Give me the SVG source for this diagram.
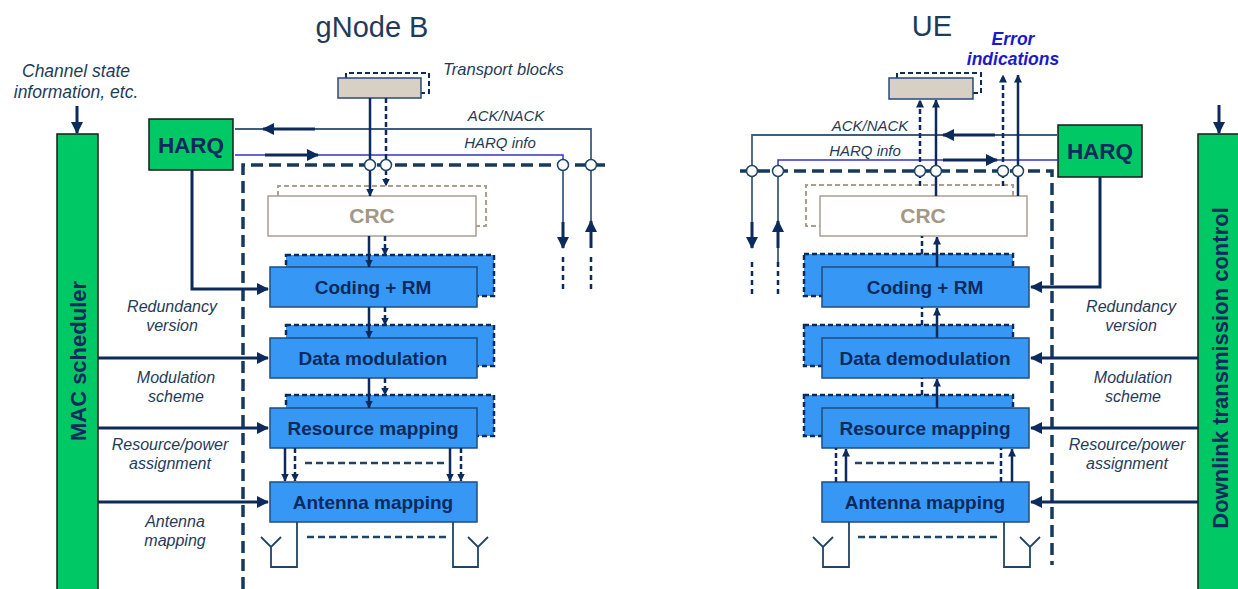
<svg xmlns="http://www.w3.org/2000/svg" width="1238" height="589" viewBox="0 0 1238 589">
<style>
.t{font-family:"Liberation Sans",Arial,sans-serif;}
.title{font-size:29px;fill:#1f3b5a;text-anchor:middle;}
.lbl{font-size:16px;font-style:italic;fill:#1f3b5a;text-anchor:middle;}
.sl{font-size:15px;font-style:italic;fill:#1f3b5a;text-anchor:middle;}
.box{fill:#3797f5;stroke:#1f4c80;stroke-width:1.5;}
.back{fill:#3797f5;stroke:#0c2a5b;stroke-width:2.5;stroke-dasharray:5 3;}
.bt{font-size:19px;font-weight:bold;fill:#0c2a5b;text-anchor:middle;}
.green{fill:#00c864;stroke:#1a1a1a;stroke-width:1.5;}
.harq{font-size:22.5px;font-weight:bold;fill:#0c2a5b;text-anchor:middle;}
.vt{font-size:22px;font-weight:bold;fill:#0c2a5b;text-anchor:middle;}
.crc{fill:#ffffff;stroke:#ab9f90;stroke-width:1.5;}
.crcb{fill:none;stroke:#ab9f90;stroke-width:2;stroke-dasharray:5 3;}
.crct{font-size:21px;font-weight:bold;fill:#a39786;text-anchor:middle;}
.tb{fill:#d8d0c4;stroke:#2a4a7a;stroke-width:1.5;}
.tbb{fill:none;stroke:#0c2a5b;stroke-width:2;stroke-dasharray:5 3;}
.bound{fill:none;stroke:#173a5c;stroke-width:3.5;stroke-dasharray:12 6;}
.thin{fill:none;stroke:#3d5f7f;stroke-width:1.8;}
.hinfo{fill:none;stroke:#3333cc;stroke-width:1.5;}
.nav{fill:none;stroke:#0c2a5b;stroke-width:3;}
.flow{fill:none;stroke:#0c2a5b;stroke-width:2.5;}
.flowd{fill:none;stroke:#0c2a5b;stroke-width:2.5;stroke-dasharray:5 3;}
.dd{fill:none;stroke:#0c2a5b;stroke-width:2.5;stroke-dasharray:5 4;}
.ant{fill:none;stroke:#1f4466;stroke-width:1.8;}
.antd{fill:none;stroke:#1f4466;stroke-width:2.5;stroke-dasharray:7 4;}
.circ{fill:#ffffff;stroke:#1f4466;stroke-width:1.5;}
</style>
<defs>
<marker id="ab" viewBox="0 0 12 12" refX="11" refY="6" markerWidth="12" markerHeight="12" orient="auto" markerUnits="userSpaceOnUse"><path d="M0,0 L12,6 L0,12 z" fill="#0c2a5b"/></marker>
<marker id="as" viewBox="0 0 8 8" refX="7.5" refY="4" markerWidth="8" markerHeight="8" orient="auto" markerUnits="userSpaceOnUse"><path d="M0,0 L8,4 L0,8 z" fill="#0c2a5b"/></marker>
</defs>

<!-- Titles -->
<text class="t title" x="372" y="37">gNode B</text>
<text class="t title" x="932" y="36">UE</text>

<!-- MAC scheduler -->
<g id="mac">
<rect class="green" x="57" y="134" width="41" height="460"/>
<text class="t vt" transform="translate(77.5,361) rotate(-90)" y="8">MAC scheduler</text>
</g>
<g id="csi">
<text class="t lbl" x="76" y="77" style="font-size:17.5px">Channel state</text>
<text class="t lbl" x="76" y="98" style="font-size:17.5px">information, etc.</text>
</g>

<!-- Downlink transmission control -->
<g id="dtc">
<rect class="green" x="1198" y="134" width="45" height="460"/>
<text class="t vt" transform="translate(1220,368) rotate(-90)" y="8">Downlink transmission control</text>
</g>

<!-- gNB HARQ -->
<g id="harq-gnb">
<rect class="green" x="149" y="119" width="84" height="51"/>
<text class="t harq" x="191" y="153">HARQ</text>
</g>
<!-- UE HARQ -->
<g id="harq-ue">
<rect class="green" x="1058" y="125" width="84" height="52"/>
<text class="t harq" x="1100" y="159">HARQ</text>
</g>

<!-- gNB transport blocks -->
<g id="tb-gnb">
<path class="tbb" d="M346,78 V73 H429 V93 H421"/>
<rect class="tb" x="338" y="78" width="83" height="20"/>
<text class="t sl" x="443" y="75" style="text-anchor:start;font-size:16.5px">Transport blocks</text>
</g>
<!-- UE transport blocks -->
<g id="tb-ue">
<path class="tbb" d="M897,78 V73 H981 V93 H973"/>
<rect class="tb" x="889" y="78" width="84" height="21"/>
</g>
<g id="err">
<text class="t" x="1013" y="45" style="font-size:17.5px;font-weight:bold;font-style:italic;fill:#1a1acc;text-anchor:middle">Error</text>
<text class="t" x="1013" y="65" style="font-size:17.5px;font-weight:bold;font-style:italic;fill:#1a1acc;text-anchor:middle">indications</text>
</g>

<!-- gNB CRC -->
<g id="crc-gnb">
<path class="crcb" d="M278,196 V186 H486 V226 H476"/>
<rect class="crc" x="268" y="196" width="208" height="40"/>
<text class="t crct" x="372" y="223">CRC</text>
</g>
<!-- UE CRC -->
<g id="crc-ue">
<path class="crcb" d="M1013,196 V185 H806 V226 H820"/>
<rect class="crc" x="820" y="196" width="207" height="40"/>
<text class="t crct" x="923" y="223">CRC</text>
</g>

<!-- gNB stack -->
<g id="coding-gnb">
<rect class="back" x="286" y="255" width="208" height="41"/>
<rect class="box" x="270" y="267" width="207" height="40"/>
<text class="t bt" x="373" y="294">Coding + RM</text>
</g>
<g id="mod-gnb">
<rect class="back" x="286" y="325" width="208" height="41"/>
<rect class="box" x="270" y="338" width="207" height="40"/>
<text class="t bt" x="373" y="365">Data modulation</text>
</g>
<g id="rm-gnb">
<rect class="back" x="286" y="395" width="208" height="41"/>
<rect class="box" x="270" y="408" width="207" height="40"/>
<text class="t bt" x="373" y="435">Resource mapping</text>
</g>
<g id="am-gnb">
<rect class="box" x="270" y="482" width="207" height="40"/>
<text class="t bt" x="373" y="509">Antenna mapping</text>
</g>

<!-- UE stack -->
<g id="coding-ue">
<rect class="back" x="804" y="254" width="209" height="42"/>
<rect class="box" x="822" y="267" width="207" height="40"/>
<text class="t bt" x="925" y="294">Coding + RM</text>
</g>
<g id="demod-ue">
<rect class="back" x="804" y="325" width="209" height="41"/>
<rect class="box" x="822" y="338" width="207" height="40"/>
<text class="t bt" x="925" y="365">Data demodulation</text>
</g>
<g id="rm-ue">
<rect class="back" x="804" y="395" width="209" height="41"/>
<rect class="box" x="822" y="408" width="207" height="40"/>
<text class="t bt" x="925" y="435">Resource mapping</text>
</g>
<g id="am-ue">
<rect class="box" x="822" y="482" width="207" height="40"/>
<text class="t bt" x="925" y="509">Antenna mapping</text>
</g>

<!-- Antennas -->
<g id="ant-gnb">
<path class="ant" d="M297,522 V567 H271 V547 M261,537 L271,547 L281,537"/>
<path class="ant" d="M453,522 V567 H478 V547 M468,537 L478,547 L488,537"/>
<line class="antd" x1="307" y1="537" x2="448" y2="537"/>
</g>
<g id="ant-ue">
<path class="ant" d="M849,522 V567 H823 V547 M813,537 L823,547 L833,537"/>
<path class="ant" d="M1004,522 V567 H1030 V547 M1020,537 L1030,547 L1040,537"/>
<line class="antd" x1="858" y1="537" x2="999" y2="537"/>
</g>

<!-- Labels -->
<g id="labels">
<text class="t lbl" x="172" y="312">Redundancy</text>
<text class="t lbl" x="172" y="331">version</text>
<text class="t lbl" x="176" y="383">Modulation</text>
<text class="t lbl" x="176" y="402">scheme</text>
<text class="t lbl" x="170" y="450">Resource/power</text>
<text class="t lbl" x="170" y="469">assignment</text>
<text class="t lbl" x="175" y="527">Antenna</text>
<text class="t lbl" x="175" y="546">mapping</text>
<text class="t lbl" x="1131" y="312">Redundancy</text>
<text class="t lbl" x="1131" y="331">version</text>
<text class="t lbl" x="1133" y="383">Modulation</text>
<text class="t lbl" x="1133" y="402">scheme</text>
<text class="t lbl" x="1127" y="450">Resource/power</text>
<text class="t lbl" x="1127" y="469">assignment</text>
<text class="t sl" x="506" y="121">ACK/NACK</text>
<text class="t sl" x="500" y="148">HARQ info</text>
<text class="t sl" x="870" y="131">ACK/NACK</text>
<text class="t sl" x="865" y="156">HARQ info</text>
</g>

<!-- Connectors -->
<g id="connectors">
<!-- boundaries -->
<path class="bound" d="M243,589 V165 H605"/>
<path class="bound" d="M740,171 H1052 V565"/>

<!-- CSI arrows -->
<line class="nav" x1="77" y1="106" x2="77" y2="133" marker-end="url(#ab)"/>
<line class="nav" x1="1219" y1="105" x2="1219" y2="133" marker-end="url(#ab)"/>

<!-- MAC scheduler to gNB -->
<line class="nav" x1="98" y1="358" x2="268" y2="358" marker-end="url(#ab)"/>
<line class="nav" x1="98" y1="428" x2="268" y2="428" marker-end="url(#ab)"/>
<line class="nav" x1="98" y1="502" x2="268" y2="502" marker-end="url(#ab)"/>
<path class="nav" d="M192,170 V289 H268" marker-end="url(#ab)"/>

<!-- DTC to UE -->
<line class="nav" x1="1198" y1="358" x2="1031" y2="358" marker-end="url(#ab)"/>
<line class="nav" x1="1198" y1="428" x2="1031" y2="428" marker-end="url(#ab)"/>
<line class="nav" x1="1198" y1="502" x2="1031" y2="502" marker-end="url(#ab)"/>
<path class="nav" d="M1100,177 V287 H1031" marker-end="url(#ab)"/>

<!-- gNB ACK/NACK & HARQ info -->
<path class="thin" d="M235,129 H591 V222"/>
<line class="nav" x1="315" y1="129" x2="263" y2="129" marker-end="url(#ab)"/>
<path class="hinfo" d="M235,155 H563 V165"/>
<line class="nav" x1="265" y1="155" x2="318" y2="155" marker-end="url(#ab)"/>
<line class="thin" x1="563" y1="165" x2="563" y2="230"/>
<line class="nav" x1="563" y1="222" x2="563" y2="248" marker-end="url(#ab)"/>
<line class="nav" x1="591" y1="248" x2="591" y2="221" marker-end="url(#ab)"/>
<line class="dd" x1="563" y1="257" x2="563" y2="290"/>
<line class="dd" x1="591" y1="257" x2="591" y2="290"/>

<!-- UE ACK/NACK & HARQ info -->
<path class="thin" d="M1058,135 H752 V230"/>
<line class="nav" x1="995" y1="135" x2="943" y2="135" marker-end="url(#ab)"/>
<path class="hinfo" d="M1058,160 H778 V171"/>
<line class="nav" x1="943" y1="160" x2="997" y2="160" marker-end="url(#ab)"/>
<line class="thin" x1="778" y1="171" x2="778" y2="262"/>
<line class="nav" x1="752" y1="222" x2="752" y2="248" marker-end="url(#ab)"/>
<line class="nav" x1="778" y1="248" x2="778" y2="221" marker-end="url(#ab)"/>
<line class="dd" x1="752" y1="262" x2="752" y2="295"/>
<line class="dd" x1="778" y1="262" x2="778" y2="295"/>

<!-- gNB downward flow -->
<line class="flow" x1="370" y1="98" x2="370" y2="196" marker-end="url(#as)"/>
<line class="flowd" x1="386" y1="98" x2="386" y2="186" marker-end="url(#as)"/>
<line class="flow" x1="369" y1="236" x2="369" y2="267" marker-end="url(#as)"/>
<line class="flowd" x1="385" y1="236" x2="385" y2="255" marker-end="url(#as)"/>
<line class="flow" x1="369" y1="307" x2="369" y2="338" marker-end="url(#as)"/>
<line class="flowd" x1="385" y1="307" x2="385" y2="325" marker-end="url(#as)"/>
<line class="flow" x1="369" y1="378" x2="369" y2="408" marker-end="url(#as)"/>
<line class="flowd" x1="385" y1="378" x2="385" y2="395" marker-end="url(#as)"/>
<line class="flow" x1="285" y1="448" x2="285" y2="481" marker-end="url(#as)"/>
<line class="flowd" x1="295" y1="448" x2="295" y2="481" marker-end="url(#as)"/>
<line class="flow" x1="450" y1="448" x2="450" y2="481" marker-end="url(#as)"/>
<line class="flowd" x1="461" y1="448" x2="461" y2="481" marker-end="url(#as)"/>
<line class="antd" x1="305" y1="463" x2="448" y2="463"/>

<!-- UE upward flow -->
<line class="flow" x1="936" y1="196" x2="936" y2="100" marker-end="url(#as)"/>
<line class="flowd" x1="920" y1="186" x2="920" y2="100" marker-end="url(#as)"/>
<line class="flow" x1="1018" y1="196" x2="1018" y2="75" marker-end="url(#as)"/>
<line class="flowd" x1="1003" y1="186" x2="1003" y2="75" marker-end="url(#as)"/>
<line class="flow" x1="937" y1="267" x2="937" y2="237" marker-end="url(#as)"/>
<line class="flowd" x1="922" y1="254" x2="922" y2="236"/>
<line class="flow" x1="937" y1="338" x2="937" y2="308" marker-end="url(#as)"/>
<line class="flowd" x1="922" y1="325" x2="922" y2="307"/>
<line class="flow" x1="937" y1="408" x2="937" y2="379" marker-end="url(#as)"/>
<line class="flowd" x1="922" y1="395" x2="922" y2="378"/>
<line class="flow" x1="846" y1="482" x2="846" y2="449" marker-end="url(#as)"/>
<line class="flowd" x1="836" y1="482" x2="836" y2="448"/>
<line class="flow" x1="1012" y1="482" x2="1012" y2="449" marker-end="url(#as)"/>
<line class="flowd" x1="1001" y1="482" x2="1001" y2="448"/>
<line class="antd" x1="855" y1="463" x2="997" y2="463"/>

<!-- junction circles -->
<circle class="circ" cx="370" cy="165" r="5.5"/>
<circle class="circ" cx="386" cy="165" r="5.5"/>
<circle class="circ" cx="563" cy="165" r="5.5"/>
<circle class="circ" cx="591" cy="165" r="5.5"/>
<circle class="circ" cx="752" cy="171" r="5.5"/>
<circle class="circ" cx="778" cy="171" r="5.5"/>
<circle class="circ" cx="920" cy="171" r="5.5"/>
<circle class="circ" cx="936" cy="171" r="5.5"/>
<circle class="circ" cx="1003" cy="171" r="5.5"/>
<circle class="circ" cx="1018" cy="171" r="5.5"/>
</g>
</svg>
